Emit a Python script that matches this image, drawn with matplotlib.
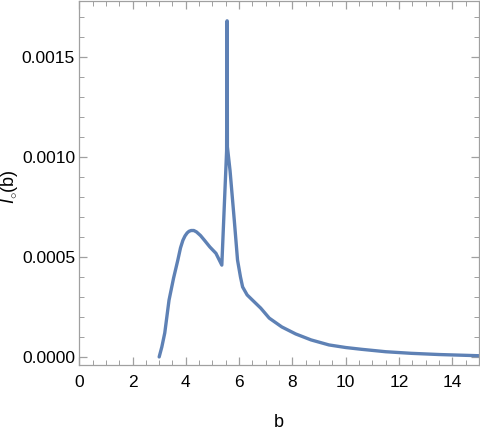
"""I_o(b) profile, Mathematica-style frame."""

import matplotlib

matplotlib.use("Agg")
import matplotlib.pyplot as plt
from matplotlib.ticker import FormatStrFormatter, MultipleLocator

b_values = [
    3.0, 3.1, 3.21, 3.37, 3.54, 3.70, 3.8, 3.89, 3.97, 4.05, 4.12, 4.2, 4.3,
    4.4, 4.55, 4.7, 4.9, 5.13, 5.35, 5.53, 5.545, 5.552, 5.56, 5.66, 5.82,
    5.94, 6.05, 6.13, 6.3, 6.5, 6.81, 7.13, 7.6, 8.12, 8.7, 9.37, 10.0, 10.6,
    11.5, 12.46, 13.5, 15.0,
]
intensity = [
    0.0, 0.00005, 0.00012, 0.000284, 0.000394, 0.000484, 0.000545, 0.000583,
    0.000605, 0.00062, 0.000628, 0.000632, 0.000632, 0.000625, 0.000607,
    0.000583, 0.00055, 0.000518, 0.000459,
    0.00103, 0.00168, 0.00168, 0.00105, 0.00093, 0.00068, 0.000484, 0.0004,
    0.00035, 0.00031, 0.000284, 0.000244, 0.000194, 0.00015, 0.000115,
    0.000085, 0.00006, 0.000047, 0.000038, 0.000026, 0.000018, 0.000012,
    0.000006,
]

plt.rcParams["font.family"] = ["Liberation Sans", "DejaVu Sans"]
plt.rcParams["mathtext.fontset"] = "custom"
plt.rcParams["mathtext.it"] = "Liberation Sans:italic"
plt.rcParams["mathtext.rm"] = "Liberation Sans"

frame = "#a0a0a0"

fig = plt.figure(figsize=(4.8, 4.36), dpi=100)
ax = fig.add_axes([0.165, 0.163, 0.833, 0.835])
ax.plot(b_values, intensity, color="#5e81b5", lw=2.4,
        solid_capstyle="round", solid_joinstyle="round")

ax.set_xlim(0, 15)
ax.set_ylim(-0.00004, 0.00178)
ax.xaxis.set_major_locator(MultipleLocator(2))
ax.xaxis.set_minor_locator(MultipleLocator(0.5))
ax.yaxis.set_major_locator(MultipleLocator(0.0005))
ax.yaxis.set_minor_locator(MultipleLocator(0.0001))
ax.yaxis.set_major_formatter(FormatStrFormatter("%.4f"))
ax.tick_params(which="both", direction="in", top=True, right=True,
               color=frame, labelsize=12.5, labelcolor="black")
ax.tick_params(axis="x", pad=7)
ax.tick_params(axis="y", pad=3)
ax.tick_params(which="major", length=6, width=0.9)
ax.tick_params(which="minor", length=3.5, width=0.7)
for spine in ax.spines.values():
    spine.set_color(frame)
    spine.set_linewidth(0.9)

ax.set_xlabel("b", fontsize=13)
ax.xaxis.set_label_coords(0.5, -0.135)
ax.set_ylabel(r"$I_{\circ}$(b)", fontsize=13)
ax.yaxis.set_label_coords(-0.147, 0.49)

fig.savefig("out.png", dpi=100)
